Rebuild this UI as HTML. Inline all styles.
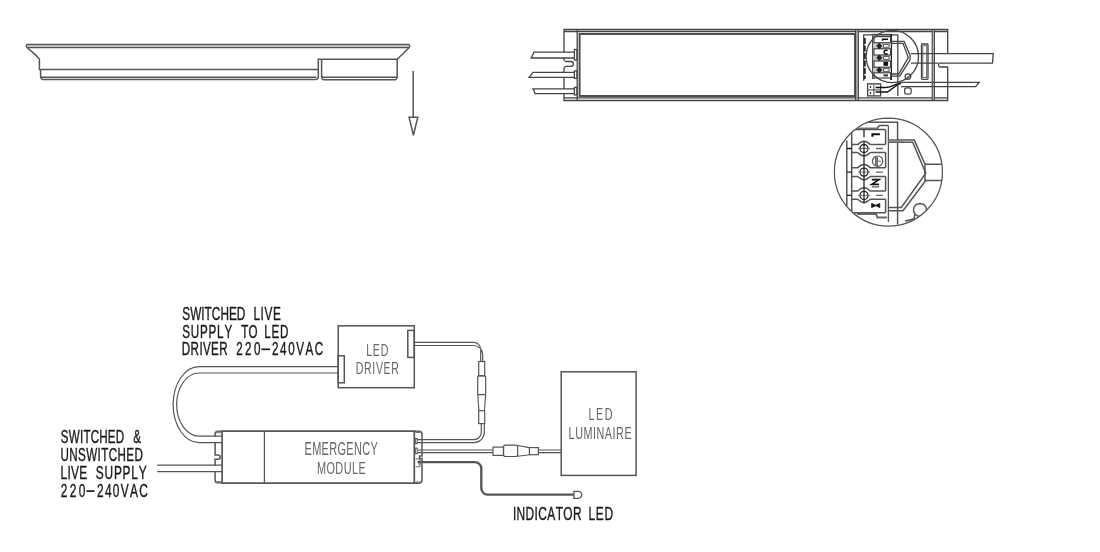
<!DOCTYPE html>
<html><head><meta charset="utf-8">
<style>
html,body{margin:0;padding:0;background:#fff;width:1100px;height:552px;overflow:hidden}
svg{display:block;will-change:transform}
.s{fill:none;stroke:#555;stroke-width:1.5}
.t{font-family:"Liberation Sans",sans-serif;fill:#1a1a1a;stroke:#1a1a1a;stroke-width:0.4}
.g{font-family:"Liberation Sans",sans-serif;fill:#666}
</style></head><body>
<svg width="1100" height="552" viewBox="0 0 1100 552">
<g class="s">
  <path d="M27,44.5 H409 Q410.5,46 409,47.5 H27 Q25.5,46 27,44.5 Z" style="fill:#e0e0e0;stroke-width:1.3"/>
  <path d="M27,47.5 L35,54.4 L39.4,59 V69.4 H40.6"/>
  <path d="M40.6,69.4 H318.3"/>
  <path d="M40.6,69.4 V77 Q41,79.4 43,79.5 H316 Q318.3,79 318.3,77 V59.2 H397.2 V77 Q397,79.5 395.5,79.7 H323.5 Q321.6,79 321.6,77 V59.2"/>
  <path d="M40.6,77.2 H316.5 M321.6,77.2 H397.2"/>
  <path d="M397.2,59.2 L409.3,47.5"/>
  <path d="M413.2,71 V117.2"/>
  <path d="M409.1,117.2 H417.8 L413.4,135.4 Z"/>
</g>

<g class="s" style="stroke-width:1.3;stroke:#444">
  <path d="M947.7,67 V100.5 H564 V93.7 M564,52.2 V29.5 H947.7 V53.6 M564,88.9 V77.4 M564,72.4 V68 M564,60 V58"/>
  <path d="M564,31.5 H947.7 M564,97.8 H947.7"/>
  <path d="M577.2,29.5 V100.5"/>
  <rect x="579.6" y="34" width="275.4" height="62" style="stroke-width:1.9;stroke:#484848"/>
  <path d="M855.7,29.5 V100.5 M858.3,29.5 V100.5" />
  <path d="M857,30 V100" style="stroke:#999;stroke-width:1.6"/>
  <path d="M932.3,29.5 V100.5 M934.3,29.5 V100.5"/>
  <path d="M933.3,30 V100" style="stroke:#aaa;stroke-width:1.2"/>
  <path d="M574.4,52.2 H534 L531.2,58 H574.4"/>
  <path d="M574.4,72.4 H533 L529,77.4 H574.4"/>
  <path d="M574.4,88.9 H533 Q534,90 535,93.7 H574.4"/>
  <rect x="574.4" y="49.5" width="2.6" height="10.5"/>
  <rect x="574.4" y="70.9" width="2.6" height="7.5"/>
  <rect x="574.4" y="87.4" width="2.6" height="7.5"/>
  <path d="M564,60 Q565,61.5 566,61.5 H570.9 A2.45,2.45 0 0 1 570.9,66.4 H566 Q565,66.4 564,68"/>
  <path d="M910.8,53.6 H993.2 Q993,58 992.5,63.1 H948 M938.5,63.1 H910.8"/>
  <path d="M948,63.1 H940 Q938.5,63.5 938.5,65 Q938.5,67 940,67 H948"/>
  <path d="M901,82.4 H979.3 L975.5,86.6 H901"/>
  <!-- inner frame -->
  <path d="M863.7,80.8 V34.9 H897.8 V80.8"/>
  <path d="M864.8,38 V79" style="stroke-width:1.8;stroke:#222;stroke-dasharray:6 1.5"/>
  <path d="M872.7,35.6 V79"/>
  <path d="M871.7,34.5 H891.2"/>
  <path d="M891.1,34 V80" style="stroke-width:1.9;stroke:#222"/>
  <circle cx="892.3" cy="56.5" r="26.2"/>
  <!-- mini terminal cells -->
  <rect x="874" y="42.7" width="17" height="6.1" style="fill:#c8c8c8;stroke:none"/>
  <rect x="874" y="55" width="17" height="6" style="fill:#c8c8c8;stroke:none"/>
  <rect x="874" y="67.2" width="17" height="5.6" style="fill:#c8c8c8;stroke:none"/>
  <rect x="874" y="36.6" width="17" height="6.1" style="stroke-width:1.2"/>
  <rect x="874" y="48.8" width="17" height="6.2" style="stroke-width:1.2"/>
  <rect x="874" y="61" width="17" height="6.2" style="stroke-width:1.2"/>
  <rect x="874" y="72.8" width="17" height="5.2" style="stroke-width:1.2"/>
  <rect x="883.5" y="44.6" width="5.5" height="2.6" style="fill:#fff;stroke:#444;stroke-width:0.8"/>
  <rect x="883.5" y="56.6" width="5.5" height="2.6" style="fill:#fff;stroke:#444;stroke-width:0.8"/>
  <rect x="883.5" y="68.7" width="5.5" height="2.6" style="fill:#fff;stroke:#444;stroke-width:0.8"/>
  <path d="M879.3,43 L882,46 L879.3,49 L876.6,46 Z M879.3,54.8 L882,57.8 L879.3,60.8 L876.6,57.8 Z M879.3,67 L882,70 L879.3,73 L876.6,70 Z" style="fill:#222;stroke:#222;stroke-width:0.6"/>
  <path d="M882.6,40.8 V39.3 H888" style="stroke-width:1.5;stroke:#111"/>
  <path d="M887.5,50.8 A2,2 0 1 0 887.5,53.5" style="stroke-width:1.5;stroke:#111"/>
  <rect x="883.5" y="61.8" width="4.6" height="4" style="fill:#111;stroke:none"/>
  <rect x="883.5" y="74.4" width="4.5" height="2" style="fill:#333;stroke:none"/>
  <!-- cable inside -->
  <path d="M891.2,41.3 H904.1 L910.1,55.4 V59.8 L899.8,76.1 H891.2"/>
  <path d="M891.2,43.3 H903 L908.3,57.6 L898.8,74 H891.2"/>
  
  <rect x="921.5" y="44" width="6.5" height="35.3" rx="0.8"/><rect x="922.8" y="45.8" width="3.9" height="31.8" style="stroke-width:0.8"/>
  
  <!-- small bottom terminal -->
  <rect x="867.6" y="83.7" width="13" height="12.2" style="stroke-width:1.3"/>
  <path d="M873.9,83.7 V95.9 M867.6,89.9 H880.6" style="stroke-width:1"/>
  <path d="M867.8,84.2 H880.4" style="stroke:#888;stroke-width:1.2"/>
  <path d="M870.5,86 V88 M870.5,92 V94" style="stroke-width:1.2;stroke:#222"/>
  <path d="M875.6,87.6 H885.6 C893,87.3 895,83.5 901,82.9" style="stroke-width:1.5;stroke:#111"/>
  <path d="M875.6,92 H887.5 L896.5,85.5 L901,83.2" style="stroke-width:1.4;stroke:#111"/>
  <path d="M897.8,80.8 V96"/>
  <circle cx="907.9" cy="76.6" r="2.8"/>
  <rect x="904.6" y="87.8" width="6.6" height="6.4" rx="2.2" style="stroke-width:1.2"/>
</g>

<defs><clipPath id="dc"><circle cx="888.4" cy="172" r="54"/></clipPath></defs>
<circle class="s" cx="888.4" cy="172" r="54" style="stroke-width:1.25"/>
<g class="s" clip-path="url(#dc)">
<path d="M882.4,118.2 H895.1" style="stroke-width:1.8"/>
<path d="M836,160 V168" style="stroke-width:0;"/>
<path d="M867.8,122.3 H897.6 V224.5"/>
<path d="M888.4,125.5 V222" style="stroke-width:1.3"/>
<path d="M879.2,125.5 H888.4"/>
<path d="M857,128.5 H877.3 L879.2,125.5" style="stroke:#777;stroke-width:2.2"/>
<path d="M846.8,140.6 V206"/>
<path d="M851.7,129.6 V212.8"/>
<path d="M885.6,129.6 V144.5"/>
<path d="M885.6,152.6 V167.7"/>
<path d="M885.6,176.4 V191.1"/>
<path d="M885.6,199.2 V212.8"/>
<path d="M851.7,129.6 H885.6"/>
<path d="M851.7,144.5 H857.0 C859.5,144.5 859.5,141.2 864.0,141.2 C868.5,141.2 868.5,144.5 871.0,144.5 H885.6"/>
<path d="M851.7,152.6 H857.0 C859.5,152.6 859.5,155.9 864.0,155.9 C868.5,155.9 868.5,152.6 871.0,152.6 H885.6"/>
<path d="M851.7,167.7 H857.0 C859.5,167.7 859.5,164.39999999999998 864.0,164.39999999999998 C868.5,164.39999999999998 868.5,167.7 871.0,167.7 H885.6"/>
<path d="M851.7,176.4 H857.0 C859.5,176.4 859.5,179.70000000000002 864.0,179.70000000000002 C868.5,179.70000000000002 868.5,176.4 871.0,176.4 H885.6"/>
<path d="M851.7,191.1 H857.0 C859.5,191.1 859.5,187.79999999999998 864.0,187.79999999999998 C868.5,187.79999999999998 868.5,191.1 871.0,191.1 H885.6"/>
<path d="M851.7,199.2 H857.0 C859.5,199.2 859.5,202.5 864.0,202.5 C868.5,202.5 868.5,199.2 871.0,199.2 H885.6"/>
<path d="M851.7,212.8 H885.6"/>
<circle cx="864.0" cy="148.5" r="4" style="stroke-width:1.3;stroke:#222"/>
<path d="M858.0,148.5 H870.3" style="stroke-width:1;stroke:#777"/>
<path d="M876,148.5 H882.9" style="stroke-width:1.4;stroke:#666"/>
<path d="M846.8,148.5 H851.7" style="stroke-width:1.4;stroke:#222"/>
<circle cx="864.0" cy="172.1" r="4" style="stroke-width:1.3;stroke:#222"/>
<path d="M858.0,172.1 H870.3" style="stroke-width:1;stroke:#777"/>
<path d="M876,172.1 H882.9" style="stroke-width:1.4;stroke:#666"/>
<path d="M846.8,172.1 H851.7" style="stroke-width:1.4;stroke:#222"/>
<circle cx="864.0" cy="195.4" r="4" style="stroke-width:1.3;stroke:#222"/>
<path d="M858.0,195.4 H870.3" style="stroke-width:1;stroke:#777"/>
<path d="M876,195.4 H882.9" style="stroke-width:1.4;stroke:#666"/>
<path d="M846.8,195.4 H851.7" style="stroke-width:1.4;stroke:#222"/>
<path d="M864.0,129.6 V137.2 M864.0,141.2 V203.5" style="stroke-width:1.3;stroke:#222"/>
<path d="M872.4,136.8 V134.3 H879.9" style="stroke-width:2;stroke:#111"/>
<circle cx="877.6" cy="161.2" r="5.2" style="stroke-width:1.2"/>
<path d="M875.8,157 V165.4 M877.2,156.6 V165.8" style="stroke-width:1;stroke:#222"/>
<path d="M877.2,161.2 H880.9" style="stroke-width:0.9"/>
<path d="M871.8,179.6 H879 L871.8,184.4 H879" style="stroke-width:1.7;stroke:#111"/>
<path d="M871.8,186.8 H879" style="stroke-width:1.2"/>
<path d="M871.6,203.4 L875.7,205.3 L879.8,203.4 V207.6 L875.7,205.7 L871.6,207.6 Z" style="fill:#111;stroke:#111;stroke-width:0.8"/>
<path d="M857,214 H876 L877.5,217.5 H887" style="stroke:#666;stroke-width:2"/>
<path d="M888.3,140.1 H914.3 L925,164.2 M888.3,142.3 H912.7 L925.8,173.2 L901.3,207.4 H888.3 M925.8,180.5 L903,210.7 H888.3"/>
<path d="M888.3,141.2 H904" style="stroke:#888;stroke-width:2"/>
<path d="M925,164.2 H942.6 M925,164.2 V180.5 H941.5"/>
<circle cx="920" cy="209.9" r="6.5"/>
<path d="M915,214 L914,219 L905,221" />
</g>
<g class="s">
  <rect x="338.2" y="325.8" width="76.1" height="61.9"/>
  <rect x="338.2" y="355.8" width="6.1" height="27"/>
  <rect x="407.8" y="330.4" width="6.5" height="27"/>
  <path d="M338.2,366.6 H199.2 A26,37.9 0 0 0 199.2,442.6 H222" style="stroke-width:1.2"/>
  <path d="M338.2,373 H199.2 A22.5,31.5 0 0 0 199.2,436.2 H222" style="stroke-width:1.2"/>
  <path d="M157.2,465.2 H222 M157.2,471.6 H222" style="stroke-width:1.3"/>
  <path d="M222.1,431.2 H414.3 V483.2 H222.1 Z" style="stroke-width:1.7;stroke:#555"/>
  <path d="M264.4,431.2 V483.2" style="stroke-width:1.3"/>
  <path d="M222.1,431.3 H218 Q215.1,431.5 215.1,434.5 V436.6 M215.1,443 V454.9 H218 A2.2,2.2 0 0 1 218,459.3 H215.1 V465.5 M215.1,471.9 V480 Q215.1,482.8 218,482.8 H222.1"/>
  <path d="M216.5,432.4 H221 M216.5,481.8 H221" style="stroke:#888;stroke-width:1.6"/>
  <path d="M414.3,431.3 H419 Q422,431.5 422,434.5 V456 H419.5 V458.5 H422 V480 Q422,483 419,483.2 H414.3"/>
  <path d="M415.5,432.3 H420.5 M415.5,482.2 H420.5" style="stroke:#777;stroke-width:1.6"/>
  <rect x="415.6" y="438.5" width="1.6" height="5.3" style="stroke-width:0.9"/>
  <rect x="415.6" y="448" width="1.6" height="5.8" style="stroke-width:0.9"/>
  <path d="M415.6,459 H420 V466.8 H415.6 M417.5,461 L419.5,465" style="stroke-width:0.9"/>
  <path d="M416.6,439.6 H474 A7.3,7.3 0 0 0 481.3,432.3 V423.5" style="stroke-width:1.2"/>
  <path d="M416.6,442.6 H474 A10.3,10.3 0 0 0 484.3,432.3 V423.5" style="stroke-width:1.2"/>
  <path d="M417,450 H493 M417,452.7 H493 M538.4,450 H561.2 M538.4,452.7 H561.2" style="stroke-width:1.2"/>
  <path d="M417.9,462.2 H475 A6.3,6.3 0 0 1 481.3,468.5 V488.3 A6.3,6.3 0 0 0 487.6,494.6 H574" style="stroke-width:2.3;stroke:#555"/>
  <path d="M573.9,491.4 H578.5 A3.2,3.45 0 0 1 578.5,498.3 H573.9 Z" style="stroke-width:1.3"/>
  <path d="M414.3,342.4 H473.7 A7,7 0 0 1 480.7,349.4 V361.5 M414.3,345.5 H473.7 A9,9 0 0 1 482.7,354.5 V361.5" style="stroke-width:1.2"/>
  <rect x="478.7" y="361.5" width="6" height="14.3" style="stroke-width:1.2"/>
  <rect x="477.7" y="375.8" width="8" height="18.9" rx="1" style="stroke-width:1.2"/>
  <path d="M477.7,394.7 L479,410.7 M485.7,394.7 L484.4,410.7" style="stroke-width:1.1"/>
  <rect x="478.7" y="410.7" width="6" height="12.9" style="stroke-width:1.2"/>
  <rect x="561.2" y="371.8" width="74.9" height="103.6"/>
  <rect x="493" y="447.1" width="10.5" height="8.3" style="stroke-width:1.2"/>
  <rect x="503.5" y="445.2" width="14.2" height="11.3" rx="2" style="stroke-width:1.2"/>
  <path d="M517.7,445.5 L529.4,447.6 M517.7,456.2 L529.4,454.7" style="stroke-width:1.1"/>
  <rect x="529.4" y="447.6" width="9" height="7.1" style="stroke-width:1.2"/>
</g>

<text class="t" transform="translate(182.26,319.70) scale(0.63,1)" x="0.00 12.53 30.26 35.49 46.97 60.54 74.11 86.64" y="0" style="font-size:18.75px">SWITCHED</text>
<text class="t" transform="translate(253.43,319.70) scale(0.63,1)" x="0.00 11.36 17.51 30.95" y="0" style="font-size:18.75px">LIVE</text>
<text class="t" transform="translate(182.27,337.50) scale(0.63,1)" x="0.00 13.58 28.18 41.76 55.34 66.88" y="0" style="font-size:18.46px">SUPPLY</text>
<text class="t" transform="translate(241.14,337.50) scale(0.63,1)" x="0.00 11.85" y="0" style="font-size:18.46px">TO</text>
<text class="t" transform="translate(264.35,337.50) scale(0.63,1)" x="0.00 11.37 24.79" y="0" style="font-size:18.46px">LED</text>
<text class="t" transform="translate(181.85,355.20) scale(0.63,1)" x="0.00 13.92 27.84 33.56 46.47 59.37" y="0" style="font-size:18.46px">DRIVER</text>
<text class="t" transform="translate(236.22,355.20) scale(0.63,1)" x="0.00 14.10 28.20" y="0" style="font-size:18.46px">220</text>
<text class="t" transform="translate(272.12,355.20) scale(0.63,1)" x="0.00 12.71 25.43 38.14 52.90 67.66" y="0" style="font-size:18.46px">240VAC</text>
<path d="M261.4,349.3 H270" style="stroke:#1a1a1a;stroke-width:1.7"/>
<text class="t" transform="translate(60.87,442.70) scale(0.63,1)" x="0.00 12.60 30.31 35.73 47.30 60.92 74.54 87.14" y="0" style="font-size:18.46px">SWITCHED</text>
<text class="t" transform="translate(133.19,442.70) scale(0.63,1)" x="0.00" y="0" style="font-size:18.46px">&amp;</text>
<text class="t" transform="translate(60.50,460.90) scale(0.63,1)" x="0.00 13.95 27.91 40.85 58.89 64.65 76.55 90.50 104.46 117.39" y="0" style="font-size:18.46px">UNSWITCHED</text>
<text class="t" transform="translate(60.42,479.10) scale(0.63,1)" x="0.00 11.08 16.90 30.08" y="0" style="font-size:18.90px">LIVE</text>
<text class="t" transform="translate(95.85,479.10) scale(0.63,1)" x="0.00 13.82 28.68 42.50 56.32 68.05" y="0" style="font-size:18.90px">SUPPLY</text>
<text class="t" transform="translate(60.80,497.30) scale(0.63,1)" x="0.00 14.32 28.64" y="0" style="font-size:18.90px">220</text>
<text class="t" transform="translate(97.10,497.30) scale(0.63,1)" x="0.00 12.51 25.02 37.54 52.14 66.75" y="0" style="font-size:18.90px">240VAC</text>
<path d="M86.4,491.1 H94.5" style="stroke:#1a1a1a;stroke-width:1.7"/>
<text class="t" transform="translate(512.90,519.50) scale(0.63,1)" x="0.00 5.88 20.16 34.44 40.32 54.60 67.83 80.00 95.33" y="0" style="font-size:18.90px">INDICATOR</text>
<text class="t" transform="translate(588.52,519.50) scale(0.63,1)" x="0.00 11.61 25.32" y="0" style="font-size:18.90px">LED</text>
<text class="g" transform="translate(366.14,355.80) scale(0.63,1)" x="0.00 10.63 23.12" y="0" style="font-size:16.72px">LED</text>
<text class="g" transform="translate(355.84,374.30) scale(0.63,1)" x="0.00 13.08 26.16 31.81 43.96 56.12" y="0" style="font-size:16.72px">DRIVER</text>
<text class="g" transform="translate(304.50,455.40) scale(0.63,1)" x="0.00 12.13 27.16 39.30 52.39 66.46 78.59 91.69 104.78" y="0" style="font-size:17.44px">EMERGENCY</text>
<text class="g" transform="translate(317.01,474.30) scale(0.63,1)" x="0.00 15.06 29.16 42.30 55.44 65.70" y="0" style="font-size:17.30px">MODULE</text>
<text class="g" transform="translate(588.62,420.00) scale(0.63,1)" x="0.00 11.80 25.49" y="0" style="font-size:17.01px">LED</text>
<text class="g" transform="translate(568.61,438.90) scale(0.63,1)" x="0.00 10.37 23.60 38.72 44.32 57.54 69.82 75.42 88.64" y="0" style="font-size:17.15px">LUMINAIRE</text></svg>
</body></html>
